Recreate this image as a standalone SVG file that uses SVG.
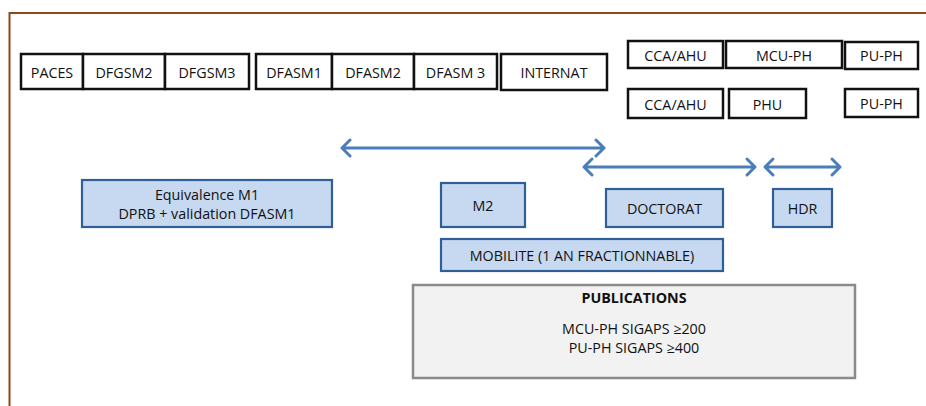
<svg xmlns="http://www.w3.org/2000/svg" width="926" height="406" viewBox="0 0 926 406">
<style>
text{font-family:"Open Sans","Noto Sans","Liberation Sans",sans-serif;font-size:14.3px;fill:#111;text-anchor:middle;dominant-baseline:central}
.k{fill:#fff;stroke:#111;stroke-width:2.5}
.b{fill:#c6d9f0;stroke:#2f5f96;stroke-width:2.2}
.g{fill:#f2f2f2;stroke:#8a8a8a;stroke-width:2.5}
.a{fill:none;stroke:#4a7ebb;stroke-width:3;stroke-linecap:round;stroke-linejoin:round}
.f{fill:none;stroke:#8b4a1c;stroke-width:2}
</style>
<rect width="926" height="406" fill="#fff"/>
<path class="f" d="M9.5,406 V13 H926"/>
<g id="paces"><rect class="k" x="21" y="54" width="62" height="35"/><text x="52" y="72">PACES</text></g>
<g id="dfgsm2"><rect class="k" x="83" y="54" width="82" height="35"/><text x="124" y="72">DFGSM2</text></g>
<g id="dfgsm3"><rect class="k" x="165" y="54" width="84" height="35"/><text x="207" y="72">DFGSM3</text></g>
<g id="dfasm1"><rect class="k" x="256" y="54" width="76" height="35"/><text x="294" y="72">DFASM1</text></g>
<g id="dfasm2"><rect class="k" x="332" y="54" width="82" height="35"/><text x="373" y="72">DFASM2</text></g>
<g id="dfasm3"><rect class="k" x="414" y="54" width="83" height="35"/><text x="455.5" y="72">DFASM 3</text></g>
<g id="internat"><rect class="k" x="501" y="54" width="106" height="36"/><text x="554" y="72">INTERNAT</text></g>
<g id="cca1"><rect class="k" x="628" y="41" width="95" height="27"/><text x="675.5" y="55">CCA/AHU</text></g>
<g id="mcuph"><rect class="k" x="726" y="41" width="116" height="27"/><text x="784" y="55">MCU-PH</text></g>
<g id="puph1"><rect class="k" x="845" y="42" width="73" height="27"/><text x="881.5" y="55.5">PU-PH</text></g>
<g id="cca2"><rect class="k" x="628" y="89" width="95" height="29"/><text x="675.5" y="104">CCA/AHU</text></g>
<g id="phu"><rect class="k" x="729" y="89" width="77" height="29"/><text x="767.5" y="104">PHU</text></g>
<g id="puph2"><rect class="k" x="845" y="89" width="73" height="28"/><text x="881.5" y="103.5">PU-PH</text></g>
<g id="equiv"><rect class="b" x="82" y="180" width="250" height="47"/><text x="207" y="194">Equivalence M1</text><text x="207" y="213">DPRB + validation DFASM1</text></g>
<g id="m2"><rect class="b" x="441" y="183" width="84" height="44"/><text x="483" y="205">M2</text></g>
<g id="doctorat"><rect class="b" x="606" y="189" width="117" height="38"/><text x="664.5" y="208">DOCTORAT</text></g>
<g id="hdr"><rect class="b" x="773" y="189" width="59" height="38"/><text x="802.5" y="208">HDR</text></g>
<g id="mobilite"><rect class="b" x="441" y="239" width="282" height="32"/><text x="582" y="255">MOBILITE (1 AN FRACTIONNABLE)</text></g>
<g id="publications"><rect class="g" x="413" y="285" width="442" height="93"/><text x="634" y="297" font-weight="bold">PUBLICATIONS</text><text x="634" y="328">MCU-PH SIGAPS ≥200</text><text x="634" y="347">PU-PH SIGAPS ≥400</text></g>
<g id="connectors">
<path class="a" d="M342,148 H604 M350,140 L342,148 L350,156 M596,140 L604,148 L596,156"/>
<path class="a" d="M584,167 H755 M592,159 L584,167 L592,175 M747,159 L755,167 L747,175"/>
<path class="a" d="M765,167 H840 M773,159 L765,167 L773,175 M832,159 L840,167 L832,175"/>
</g>
</svg>
